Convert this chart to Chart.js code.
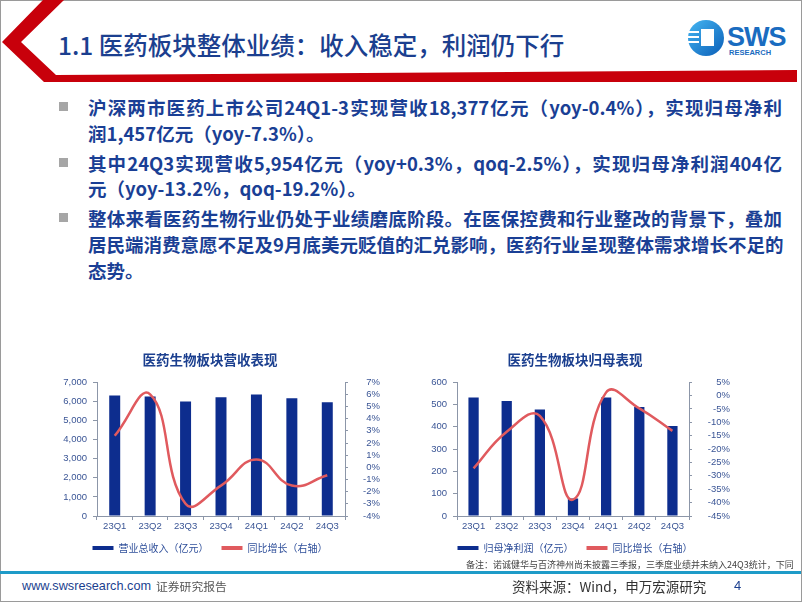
<!DOCTYPE html>
<html><head><meta charset="utf-8">
<script src="https://cdn.jsdelivr.net/npm/chart.js@4"></script>
<style>
html,body{margin:0;padding:0;background:#fff;}
body{width:802px;height:602px;position:relative;overflow:hidden;font-family:"Noto Sans CJK SC","Noto Sans",sans-serif;}
.abs{position:absolute;white-space:nowrap;}
.frame{position:absolute;left:0;top:0;width:800px;height:600px;border:1px solid #9a9a9a;}
.title{left:58px;top:28px;font-size:24.5px;line-height:34px;color:#1b3f8f;font-weight:500;}
.line{left:88px;font-size:18.5px;line-height:26px;font-weight:700;color:#1a3f95;}
.just{width:694px;text-align:justify;text-align-last:justify;}
.sq{position:absolute;left:59px;width:9px;height:9px;background:#a6a6a6;}
canvas{position:absolute;}
.note{left:466px;top:558px;font-size:9px;line-height:14px;color:#444;}
.foot{top:576px;line-height:20px;}
</style></head>
<body>
<div class="frame"></div>
<svg class="abs" style="left:0;top:0" width="802" height="90">
  <polygon points="43,0 64,0 21,42 56,75 797,70 797,82 44,82 2,42" fill="#c8000b"/>
  <defs><linearGradient id="lg" x1="0" y1="0" x2="1" y2="1"><stop offset="0" stop-color="#45b6f2"/><stop offset="1" stop-color="#0b5fb8"/></linearGradient></defs>
  <circle cx="706" cy="38" r="18" fill="url(#lg)"/>
  <rect x="701" y="29" width="13" height="17" fill="#fff"/>
  <rect x="688" y="31" width="11" height="2" fill="#fff"/>
  <rect x="688" y="36" width="11" height="2" fill="#fff"/>
  <rect x="688" y="41" width="11" height="2" fill="#fff"/>
</svg>
<div class="abs" style="left:727px;top:22px;font:900 27px 'Liberation Sans',Arial,sans-serif;color:#1a6cc0;letter-spacing:-1px;line-height:30px;">SWS</div>
<div class="abs" style="left:729px;top:48px;font:700 7.5px 'Liberation Sans',Arial,sans-serif;color:#1a6cc0;line-height:9px;">RESEARCH</div>
<div class="abs title">1.1 医药板块整体业绩：收入稳定，利润仍下行</div>

<div class="sq" style="top:102px"></div>
<div class="abs line just" style="top:94px">沪深两市医药上市公司24Q1-3实现营收18,377亿元（yoy-0.4%），实现归母净利</div>
<div class="abs line" style="top:120px">润1,457亿元（yoy-7.3%）。</div>
<div class="sq" style="top:158px"></div>
<div class="abs line just" style="top:150px">其中24Q3实现营收5,954亿元（yoy+0.3%，qoq-2.5%），实现归母净利润404亿</div>
<div class="abs line" style="top:175px">元（yoy-13.2%，qoq-19.2%）。</div>
<div class="sq" style="top:213px"></div>
<div class="abs line just" style="top:205px">整体来看医药生物行业仍处于业绩磨底阶段。在医保控费和行业整改的背景下，叠加</div>
<div class="abs line just" style="top:231px">居民端消费意愿不足及9月底美元贬值的汇兑影响，医药行业呈现整体需求增长不足的</div>
<div class="abs line" style="top:257px">态势。</div>

<canvas id="c1" width="340" height="223" style="left:40px;top:340px"></canvas>
<canvas id="c2" width="310" height="223" style="left:420px;top:340px"></canvas>

<div class="abs note">备注：诺诚健华与百济神州尚未披露三季报，三季度业绩并未纳入24Q3统计，下同</div>
<div class="abs" style="left:0;top:571px;width:801px;height:2.5px;background:#1e9bc8"></div>
<div class="abs foot" style="left:22px;font:12.7px 'Liberation Sans',Arial,sans-serif;line-height:20px;color:#1b3f8f;">www.swsresearch.com</div>
<div class="abs foot" style="left:156px;font-size:11.8px;color:#555;">证券研究报告</div>
<div class="abs foot" style="left:512px;font-size:13.5px;color:#333;">资料来源：Wind，申万宏源研究</div>
<div class="abs foot" style="left:734px;font:13px 'Liberation Sans',Arial,sans-serif;line-height:20px;color:#1b3f8f;">4</div>

<script>
const quarters = ['23Q1','23Q2','23Q3','23Q4','24Q1','24Q2','24Q3'];
const revenue = [6300, 6250, 5985, 6210, 6350, 6160, 5954];
const revenueYoy = [2.6, 6.0, -3.0, -1.5, 0.65, -1.5, -0.65];
const profit = [531, 516, 478, 78, 531, 489, 404];
const profitYoy = [-27.2, -13.5, -7.6, -38.9, 1.2, -4.8, -13.2];
const chartTitles = ['医药生物板块营收表现', '医药生物板块归母表现'];
const barLabels = ['营业总收入（亿元）', '归母净利润（亿元）'];
const lineLabel = '同比增长（右轴）';

const NAVY = '#0d2d8e';
const RED = '#e05a5e';
const AXIS = '#8c96a8';
const TICK = '#3a5595';
const tickFont = {family: "'Liberation Sans', Arial, sans-serif", size: 9.5};

function makeChart(id, cfg) {
  return new Chart(document.getElementById(id), {
    data: {
      labels: quarters,
      datasets: [
        {type:'bar', label: cfg.barLabel, data: cfg.bars, backgroundColor: NAVY, yAxisID:'y',
         barPercentage:0.31, categoryPercentage:1, order:1},
        {type:'line', label: lineLabel, data: cfg.line, borderColor: RED, borderWidth:2.5,
         pointRadius:0, tension:0.45, yAxisID:'y1', order:0, fill:false}
      ]
    },
    options: {
      responsive:false, devicePixelRatio:1, animation:false,
      layout:{padding:0},
      plugins:{
        title:{display:true, text: cfg.title, color:'#1b3f8f',
          font:{family:"'Noto Sans CJK SC', sans-serif", size:13.5, weight:'bold'},
          padding:{top:12, bottom:14}},
        legend:{position:'bottom',
          labels:{boxWidth:21, boxHeight:4, padding:8, color:'#2f4f9a',
            font:{family:"'Noto Sans CJK SC', sans-serif", size:10},
            generateLabels:(ch)=>ch.data.datasets.map((d,i)=>({
              text: i===0 ? d.label + '\u3000' : d.label,
              fillStyle: i===0?NAVY:RED, strokeStyle:i===0?NAVY:RED,
              lineWidth:0, hidden:false, datasetIndex:i, fontColor:'#2f4f9a'}))}},
        tooltip:{enabled:false}
      },
      scales:{
        x:{offset:true,
           grid:{offset:true, drawOnChartArea:false, drawTicks:true, tickLength:4, color:AXIS},
           border:{display:true, color:AXIS},
           ticks:{color:TICK, font:tickFont, padding:1, maxRotation:0, autoSkip:false},
           afterFit:(s)=>{s.height=19;}},
        y:{position:'left', min:cfg.yMin, max:cfg.yMax, 
           grid:{drawOnChartArea:false, tickLength:4, color:AXIS},
           border:{display:true, color:AXIS},
           ticks:{stepSize:cfg.yStep, color:TICK, font:tickFont, padding:6, autoSkip:false,
             callback:(v)=>v.toLocaleString('en-US')},
           afterFit:(s)=>{s.width=cfg.leftW;}},
        y1:{position:'right', min:cfg.rMin, max:cfg.rMax,
           grid:{drawOnChartArea:false, tickLength:3, color:AXIS},
           border:{display:true, color:AXIS},
           ticks:{stepSize:cfg.rStep, color:TICK, font:tickFont, padding:cfg.rPad, crossAlign:'far', autoSkip:false,
             callback:(v)=>v+'%'},
           afterFit:(s)=>{s.width=cfg.rightW;}}
      }
    }
  });
}

makeChart('c1', {title:chartTitles[0], barLabel:barLabels[0], bars:revenue, line:revenueYoy,
  yMin:0, yMax:7000, yStep:1000, rMin:-4, rMax:7, rStep:1, leftW:57, rightW:35, rPad:0});
makeChart('c2', {title:chartTitles[1], barLabel:barLabels[1], bars:profit, line:profitYoy,
  yMin:0, yMax:600, yStep:100, rMin:-45, rMax:5, rStep:5, leftW:37, rightW:41, rPad:3});
</script>
</body></html>
